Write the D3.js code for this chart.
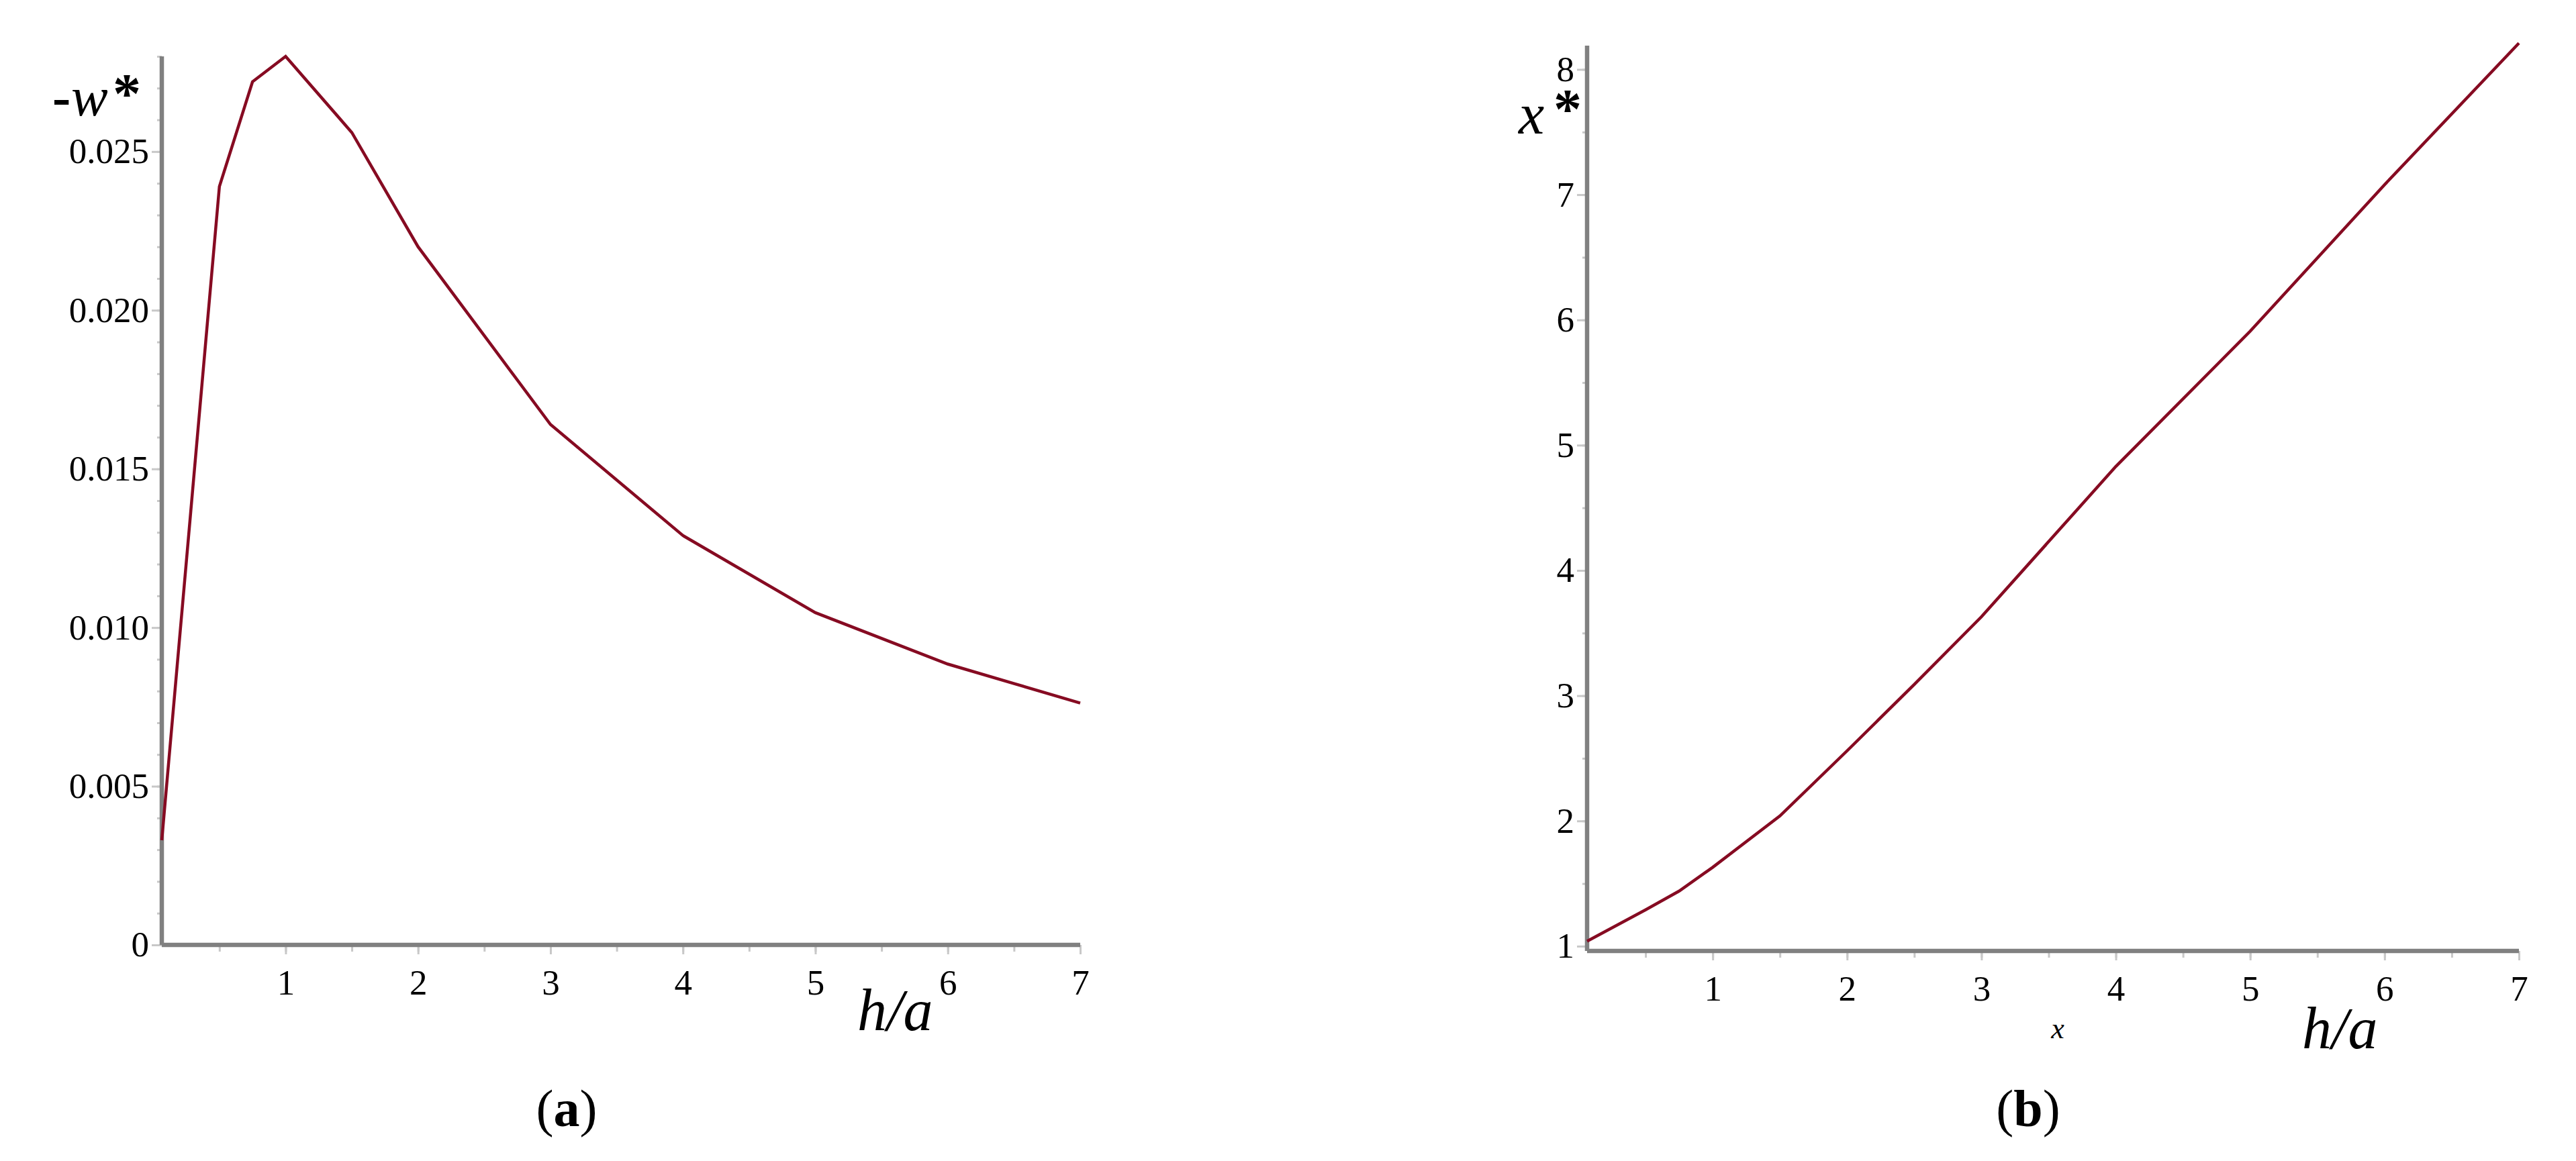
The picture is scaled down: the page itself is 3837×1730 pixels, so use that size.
<!DOCTYPE html>
<html>
<head>
<meta charset="utf-8">
<script src="https://cdn.jsdelivr.net/npm/d3@7"></script>
<style>
  html, body { margin: 0; padding: 0; background: #fff; }
  svg text { font-family: "Liberation Serif", "Times New Roman", serif; fill: #000; }
</style>
</head>
<body>
<svg id="chart"></svg>
<script>
"use strict";

// panel (a): -w* against h/a
const hA = [0.065, 0.5, 0.75, 1, 1.5, 2, 3, 4, 5, 6, 7];
const wA = [0.0033, 0.0239, 0.0272, 0.0280, 0.0256, 0.0220, 0.0164, 0.0129, 0.01047, 0.00885, 0.00762];
const wTicks = [0, 0.005, 0.010, 0.015, 0.020, 0.025];
const wTickLabels = ['0', '0.005', '0.010', '0.015', '0.020', '0.025'];

// panel (b): x* against h/a
const hB = [0.065, 0.5, 0.75, 1, 1.5, 2, 2.5, 3, 4, 5, 6, 7];
const xB = [1.04, 1.29, 1.44, 1.63, 2.04, 2.56, 3.09, 3.63, 4.83, 5.91, 7.08, 8.21];
const xStarTicks = [1, 2, 3, 4, 5, 6, 7, 8];

const hTicks = [1, 2, 3, 4, 5, 6, 7];

const WIDTH = 3837;
const HEIGHT = 1730;
const LINE_COLOR = '#860b22';
const AXIS_COLOR = '#808080';
const TICK_COLOR = '#c8c8c8';

const svg = d3.select('#chart')
    .attr('width', WIDTH)
    .attr('height', HEIGHT);

// minor ticks every step between the domain ends
function minorTicks(domain, step){
	const out = [];
	const start = Math.ceil(domain[0] / step - 1e-9);
	for(let i = start; i * step <= domain[1] + 1e-12; i++){
		out.push(+(i * step).toFixed(6));
	}
	return out;
}

function drawPanel(cfg){
	const g = svg.append('g');

	const x = d3.scaleLinear().domain(cfg.xDomain).range(cfg.xRange);
	const y = d3.scaleLinear().domain(cfg.yDomain).range(cfg.yRange);
	const x0 = cfg.xRange[0];
	const y0 = cfg.yRange[0];

	// minor ticks
	g.append('g')
	    .attr('transform', `translate(${x0},0)`)
	    .call(d3.axisLeft(y).tickValues(minorTicks(cfg.yDomain, cfg.yMinor)).tickSize(7).tickFormat(''))
	    .call(a => a.select('.domain').remove());
	g.append('g')
	    .attr('transform', `translate(0,${y0})`)
	    .call(d3.axisBottom(x).tickValues(minorTicks(cfg.xDomain, 0.5)).tickSize(10).tickFormat(''))
	    .call(a => a.select('.domain').remove());
	g.selectAll('.tick line')
	    .attr('stroke', TICK_COLOR)
	    .attr('stroke-width', 3);

	// major ticks + labels
	const yAxis = g.append('g')
	    .attr('transform', `translate(${x0},0)`)
	    .call(d3.axisLeft(y).tickValues(cfg.yTicks).tickSize(15).tickPadding(4)
	        .tickFormat((d, i) => cfg.yLabels[i]))
	    .call(a => a.select('.domain').remove());
	const xAxis = g.append('g')
	    .attr('transform', `translate(0,${y0})`)
	    .call(d3.axisBottom(x).tickValues(hTicks).tickSize(14).tickPadding(22).tickFormat(d3.format('d')))
	    .call(a => a.select('.domain').remove());

	[yAxis, xAxis].forEach(a => {
		a.attr('font-family', null).attr('font-size', null);
		a.selectAll('.tick line').attr('stroke', TICK_COLOR).attr('stroke-width', 3);
		a.selectAll('.tick text').style('font-size', '53px').attr('fill', '#000');
	});

	// axis lines
	g.append('line')
	    .attr('x1', x0).attr('y1', y0)
	    .attr('x2', x0).attr('y2', cfg.yRange[1])
	    .attr('stroke', AXIS_COLOR)
	    .attr('stroke-width', 6.5);
	g.append('line')
	    .attr('x1', x0).attr('y1', y0)
	    .attr('x2', cfg.xRange[1]).attr('y2', y0)
	    .attr('stroke', AXIS_COLOR)
	    .attr('stroke-width', 6.5);

	// the curve
	const line = d3.line()
	    .x(d => x(d[0]))
	    .y(d => y(d[1]));
	g.append('path')
	    .datum(cfg.xs.map((v, i) => [v, cfg.ys[i]]))
	    .attr('d', line)
	    .attr('fill', 'none')
	    .attr('stroke', LINE_COLOR)
	    .attr('stroke-width', 4.5)
	    .attr('stroke-linejoin', 'miter');

	return g;
}

const gA = drawPanel({
	xDomain: [0.065, 7], xRange: [241, 1609],
	yDomain: [0, 0.028], yRange: [1408, 84],
	yTicks: wTicks, yLabels: wTickLabels, yMinor: 0.001,
	xs: hA, ys: wA
});

const gB = drawPanel({
	xDomain: [0.065, 7], xRange: [2364, 3752],
	yDomain: [0.962, 8.19], yRange: [1417, 68],
	yTicks: xStarTicks, yLabels: xStarTicks.map(String), yMinor: 0.5,
	xs: hB, ys: xB
});

// axis titles
const tA = gA.append('text').attr('y', 172).style('font-size', '82px');
tA.append('tspan').attr('x', 78).style('font-weight', 'bold').text('-');
tA.append('tspan').attr('x', 106).style('font-style', 'italic').text('w');
tA.append('tspan').attr('x', 168).attr('dy', -4).style('font-weight', 'bold').style('font-size', '84px').text('*');

gA.append('text')
    .attr('x', 1277).attr('y', 1535)
    .style('font-size', '88px').style('font-style', 'italic')
    .text('h/a');

const tB = gB.append('text').attr('y', 199).style('font-size', '86px');
tB.append('tspan').attr('x', 2262).style('font-style', 'italic').text('x');
tB.append('tspan').attr('x', 2314).attr('dy', -8).style('font-weight', 'bold').style('font-size', '84px').text('*');

gB.append('text')
    .attr('x', 3429).attr('y', 1562)
    .style('font-size', '88px').style('font-style', 'italic')
    .text('h/a');

gB.append('text')
    .attr('x', 3065).attr('y', 1547)
    .attr('text-anchor', 'middle')
    .style('font-size', '44px').style('font-style', 'italic')
    .text('x');

// captions
[['a', 844], ['b', 3021]].forEach(([c, cx]) => {
	const t = svg.append('text')
	    .attr('x', cx).attr('y', 1678)
	    .attr('text-anchor', 'middle')
	    .style('font-size', '78px');
	t.append('tspan').text('(');
	t.append('tspan').style('font-weight', 'bold').text(c);
	t.append('tspan').text(')');
});
</script>
</body>
</html>
